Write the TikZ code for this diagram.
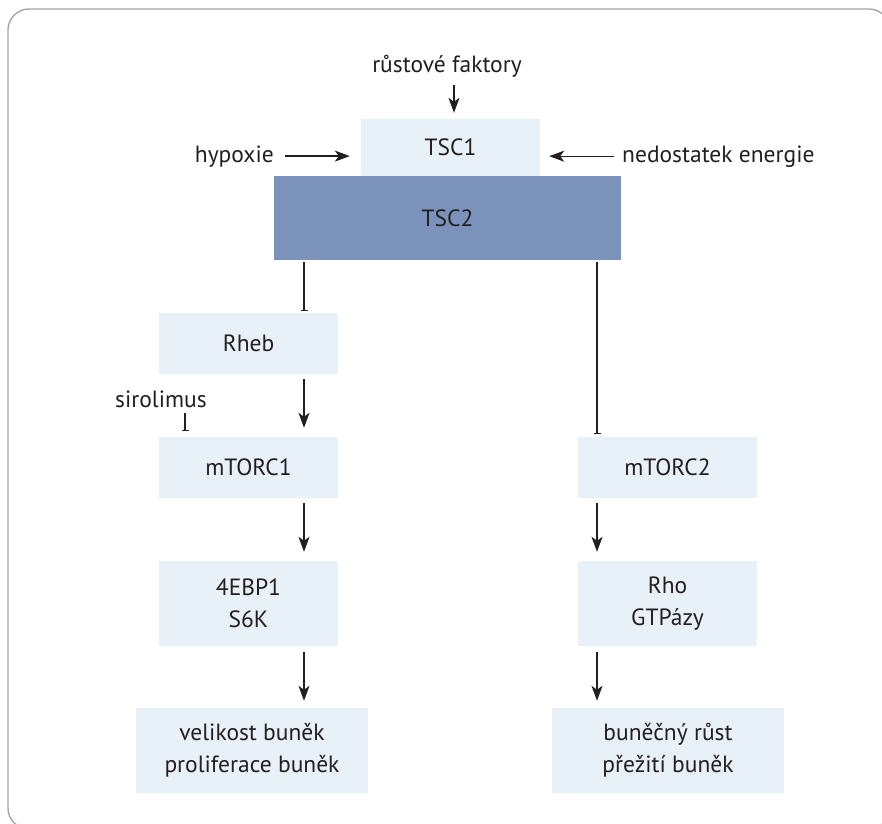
\documentclass[tikz,border=0pt]{standalone}
\usepackage{fontspec}
\setmainfont{PT Sans}
\usetikzlibrary{arrows.meta}
\definecolor{boxlight}{RGB}{232,240,248}
\definecolor{boxdark}{RGB}{123,147,186}
\definecolor{txt}{RGB}{35,31,32}
\definecolor{framegray}{RGB}{165,165,165}
\begin{document}
\begin{tikzpicture}[x=1pt,y=-1pt,
  every node/.style={font=\fontsize{23.5}{32}\selectfont, text=txt},
  box/.style={fill=boxlight, minimum width=179pt, minimum height=61pt, inner sep=0pt, align=center},
  tallbox/.style={box, minimum height=85pt},
  widebox/.style={box, minimum width=232pt, minimum height=85pt},
  darkbox/.style={fill=boxdark, minimum width=347pt, minimum height=84pt, inner sep=0pt},
  lbl/.style={inner sep=0pt},
  act/.style={draw=txt, line width=1.3pt, -{Stealth[length=15pt,width=11pt,inset=4pt]}},
  inh/.style={draw=txt, line width=1.3pt, -{Bar[width=7pt,line width=1.3pt]}}
]
\useasboundingbox (0,0) rectangle (882,823);
\begin{scope}
  \clip (0,0) rectangle (882,823);
  \draw[framegray, line width=1.4pt, rounded corners=21pt] (8,9) rectangle (890,829);
\end{scope}

% nodes
\node[darkbox] (tsc2) at (447.5,218) {TSC2};
\node[box, minimum height=57pt] (tsc1) at (450.5,147.5) {TSC1};
\node[box] (rheb) at (248.5,343.5) {Rheb};
\node[box] (mtorc1) at (248.5,467.5) {mTORC1};
\node[tallbox] (ebp) at (248.5,603.5) {4EBP1\\S6K};
\node[widebox] (vel) at (252,750.5) {velikost buněk\\proliferace buněk};
\node[box] (mtorc2) at (667.5,467.5) {mTORC2};
\node[tallbox] (rho) at (667.5,603.5) {Rho\\GTPázy};
\node[widebox] (bun) at (668,750.5) {buněčný růst\\přežití buněk};

% labels
\node[lbl, anchor=base] (gf) at (447,72) {růstové faktory};
\node[lbl, anchor=base east] (hyp) at (274,162) {hypoxie};
\node[lbl, anchor=base west] (ned) at (622,162) {nedostatek energie};
\node[lbl, anchor=base] (sir) at (161,407) {sirolimus};

% column coordinates
\coordinate (cT) at (454,0);
\coordinate (cL) at (304,0);
\coordinate (cR) at (597,0);
\coordinate (cS) at (185,0);

% connectors
\draw[act, shorten <=8pt, shorten >=6pt] (gf.south -| cT) -- (tsc1.north -| cT);
\draw[act, shorten <=11pt, shorten >=11pt] (hyp.east) -- (hyp.east -| tsc1.west);
\draw[act, shorten <=8pt, shorten >=9pt] (ned.west) -- (ned.west -| tsc1.east);

\draw[inh, shorten <=2pt, shorten >=2pt] (tsc2.south -| cL) -- (rheb.north -| cL);
\draw[act, shorten <=5pt, shorten >=9pt] (rheb.south -| cL) -- (mtorc1.north -| cL);
\draw[inh, shorten <=6pt, shorten >=6pt] (sir.south -| cS) -- (mtorc1.north -| cS);
\draw[act, shorten <=5pt, shorten >=9pt] (mtorc1.south -| cL) -- (ebp.north -| cL);
\draw[act, shorten <=6pt, shorten >=7pt] (ebp.south -| cL) -- (vel.north -| cL);

\draw[inh, shorten <=2pt, shorten >=3pt] (tsc2.south -| cR) -- (mtorc2.north -| cR);
\draw[act, shorten <=5pt, shorten >=9pt] (mtorc2.south -| cR) -- (rho.north -| cR);
\draw[act, shorten <=6pt, shorten >=7pt] (rho.south -| cR) -- (bun.north -| cR);
\end{tikzpicture}
\end{document}
